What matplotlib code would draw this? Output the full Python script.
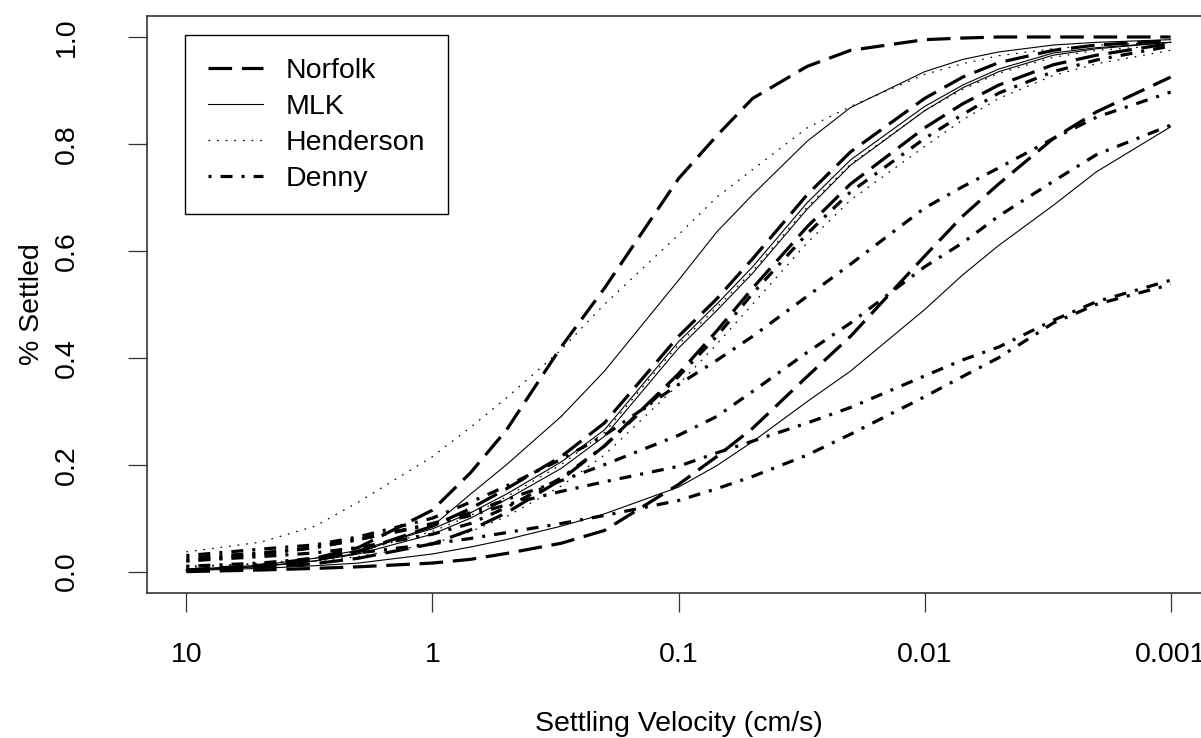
import numpy as np
import matplotlib
matplotlib.use("Agg")
import matplotlib.pyplot as plt

plt.rcParams['font.family'] = ['Liberation Sans', 'DejaVu Sans']
plt.rcParams['lines.scale_dashes'] = False

# settling velocity (cm/s)
velocity = [10, 5, 3, 2, 1, 0.7, 0.5, 0.3, 0.2, 0.1, 0.07, 0.05, 0.03, 0.02,
            0.01, 0.007, 0.005, 0.003, 0.002, 0.001]

# fraction settled for each sample, grouped by site
norfolk = [
    [0.003, 0.012, 0.025, 0.045, 0.115, 0.185, 0.265, 0.42, 0.53, 0.735, 0.815, 0.885, 0.945, 0.975, 0.995, 0.998, 1.0, 1.0, 1.0, 1.0],
    [0.003, 0.01, 0.022, 0.038, 0.085, 0.118, 0.155, 0.215, 0.278, 0.44, 0.51, 0.585, 0.705, 0.785, 0.885, 0.925, 0.952, 0.975, 0.985, 0.993],
    [0.003, 0.008, 0.015, 0.025, 0.052, 0.078, 0.11, 0.172, 0.235, 0.37, 0.45, 0.53, 0.645, 0.725, 0.83, 0.875, 0.91, 0.948, 0.966, 0.988],
    [0.0, 0.003, 0.006, 0.009, 0.016, 0.023, 0.034, 0.053, 0.077, 0.163, 0.215, 0.268, 0.365, 0.44, 0.59, 0.665, 0.725, 0.81, 0.86, 0.925],
]
mlk = [
    [0.003, 0.01, 0.02, 0.035, 0.085, 0.145, 0.2, 0.29, 0.375, 0.545, 0.635, 0.705, 0.805, 0.868, 0.935, 0.958, 0.972, 0.985, 0.99, 0.995],
    [0.004, 0.012, 0.025, 0.04, 0.08, 0.11, 0.145, 0.205, 0.265, 0.43, 0.5, 0.57, 0.69, 0.77, 0.87, 0.91, 0.94, 0.97, 0.98, 0.99],
    [0.003, 0.009, 0.02, 0.033, 0.07, 0.1, 0.135, 0.193, 0.253, 0.418, 0.488, 0.558, 0.678, 0.76, 0.862, 0.905, 0.935, 0.966, 0.978, 0.99],
    [0.002, 0.006, 0.011, 0.016, 0.033, 0.046, 0.06, 0.085, 0.108, 0.158, 0.198, 0.243, 0.318, 0.375, 0.49, 0.555, 0.61, 0.685, 0.748, 0.832],
]
henderson = [
    [0.037, 0.055, 0.085, 0.13, 0.215, 0.27, 0.325, 0.415, 0.5, 0.63, 0.7, 0.752, 0.83, 0.87, 0.93, 0.95, 0.965, 0.978, 0.985, 0.99],
    [0.008, 0.015, 0.025, 0.038, 0.075, 0.105, 0.14, 0.2, 0.26, 0.425, 0.494, 0.562, 0.682, 0.762, 0.862, 0.902, 0.932, 0.962, 0.975, 0.985],
    [0.01, 0.015, 0.02, 0.028, 0.052, 0.075, 0.103, 0.16, 0.218, 0.35, 0.425, 0.5, 0.615, 0.695, 0.795, 0.845, 0.885, 0.928, 0.95, 0.975],
]
denny = [
    [0.02, 0.028, 0.035, 0.045, 0.07, 0.09, 0.12, 0.175, 0.235, 0.365, 0.44, 0.52, 0.632, 0.71, 0.81, 0.855, 0.895, 0.935, 0.957, 0.983],
    [0.03, 0.042, 0.05, 0.065, 0.1, 0.13, 0.16, 0.21, 0.255, 0.35, 0.395, 0.44, 0.515, 0.575, 0.68, 0.72, 0.755, 0.81, 0.85, 0.897],
    [0.025, 0.035, 0.045, 0.06, 0.09, 0.11, 0.135, 0.17, 0.2, 0.255, 0.29, 0.337, 0.41, 0.465, 0.57, 0.615, 0.665, 0.73, 0.78, 0.835],
    [0.02, 0.032, 0.045, 0.06, 0.088, 0.105, 0.125, 0.15, 0.168, 0.197, 0.222, 0.244, 0.278, 0.307, 0.366, 0.396, 0.42, 0.47, 0.505, 0.545],
    [0.01, 0.016, 0.025, 0.035, 0.052, 0.062, 0.073, 0.09, 0.105, 0.133, 0.155, 0.178, 0.218, 0.257, 0.327, 0.365, 0.4, 0.465, 0.5, 0.537],
]

site_names = ['Norfolk', 'MLK', 'Henderson', 'Denny']
x_ticks = [10, 1, 0.1, 0.01, 0.001]
x_ticklabels = ['10', '1', '0.1', '0.01', '0.001']
y_ticks = [0.0, 0.2, 0.4, 0.6, 0.8, 1.0]
y_ticklabels = ['0.0', '0.2', '0.4', '0.6', '0.8', '1.0']

styles = {
    'Norfolk': dict(lw=2.3, dashes=(17, 7)),
    'MLK': dict(lw=0.8, linestyle='-'),
    'Henderson': dict(lw=0.9, dashes=(1.2, 5.0)),
    'Denny': dict(lw=2.3, dashes=(2.2, 6.5, 8.6, 6.5)),
}

fig = plt.figure(figsize=(12.01, 7.38), dpi=100)
ax = fig.add_axes([147 / 1201, 1 - 593 / 738, 1063 / 1201, 577.4 / 738])

for name, group in zip(site_names, [norfolk, mlk, henderson, denny]):
    for i, vals in enumerate(group):
        ax.plot(velocity, vals, color='black', label=name if i == 0 else None,
                **styles[name])

ax.set_xscale('log')
ax.set_xlim(10 ** 1.16, 10 ** -3.16)
ax.set_ylim(-0.04, 1.04)
ax.set_xticks(x_ticks)
ax.set_xticklabels(x_ticklabels)
ax.xaxis.set_minor_locator(matplotlib.ticker.NullLocator())
ax.set_yticks(y_ticks)
ax.set_yticklabels(y_ticklabels, rotation=90, va='center')

fs = 20.5
ax.tick_params(axis='both', length=13.5, width=0.9, labelsize=fs, color='#333333')
ax.tick_params(axis='x', pad=22)
ax.tick_params(axis='y', pad=35)
for sp in ax.spines.values():
    sp.set_linewidth(1.2)
    sp.set_color('#333333')

ax.set_xlabel('Settling Velocity (cm/s)', fontsize=fs)
ax.xaxis.set_label_coords(0.5, -0.227)
ax.xaxis.label.set_va('center')
ax.set_ylabel('% Settled', fontsize=fs)
ax.yaxis.set_label_coords(-0.108, 0.5)
ax.yaxis.label.set_va('center')

leg = ax.legend(loc='upper left', bbox_to_anchor=(0.0357, 0.9664), fontsize=fs,
                frameon=True, fancybox=False, edgecolor='black', framealpha=1,
                handlelength=1.95, handletextpad=0.8, labelspacing=0.35,
                borderpad=0.8, borderaxespad=0)
leg.get_frame().set_linewidth(1.0)

fig.savefig('out.png', dpi=100)
